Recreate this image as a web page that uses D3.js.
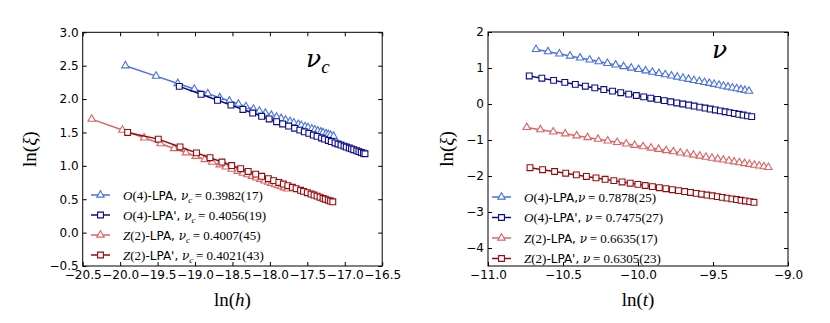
<!DOCTYPE html>
<html>
<head>
<meta charset="utf-8">
<script src="https://cdn.jsdelivr.net/npm/d3@7"></script>
<style>
body { margin: 0; background: #fff; }
svg { display: block; }
.tick text { font-family: "DejaVu Sans", sans-serif; font-size: 12px; fill: #000; }
.tick line { stroke: #000; }
.domain { stroke: none; }
</style>
</head>
<body>
<div id="container"></div>
<script>
// ln(xi) vs ln(h) at T_c  (left panel)
const o4LpaLnH = [-19.93, -19.52, -19.23, -19.01, -18.83, -18.67, -18.54, -18.42, -18.32, -18.22, -18.14, -18.06, -17.98, -17.91, -17.85, -17.79, -17.73, -17.68, -17.62, -17.58, -17.53, -17.49, -17.44, -17.40, -17.36, -17.32, -17.29, -17.25, -17.22, -17.19, -17.15]
const o4LpaXiH = [2.500, 2.344, 2.234, 2.150, 2.082, 2.021, 1.972, 1.926, 1.888, 1.850, 1.820, 1.789, 1.759, 1.732, 1.710, 1.687, 1.664, 1.645, 1.622, 1.607, 1.588, 1.573, 1.554, 1.539, 1.523, 1.508, 1.497, 1.482, 1.470, 1.459, 1.444]

const o4LpapLnH = [-19.21, -18.92, -18.70, -18.52, -18.36, -18.23, -18.11, -18.01, -17.91, -17.83, -17.75, -17.67, -17.60, -17.54, -17.48, -17.42, -17.37, -17.31, -17.27, -17.22, -17.18, -17.13, -17.09, -17.05, -17.01, -16.98, -16.94, -16.91, -16.88, -16.84, -16.81, -16.78, -16.75, -16.73]
const o4LpapXiH = [2.190, 2.072, 1.982, 1.909, 1.844, 1.791, 1.742, 1.702, 1.661, 1.628, 1.596, 1.563, 1.535, 1.510, 1.486, 1.461, 1.441, 1.417, 1.400, 1.380, 1.364, 1.343, 1.327, 1.311, 1.295, 1.282, 1.266, 1.254, 1.242, 1.225, 1.213, 1.201, 1.189, 1.181]

const z2LpaLnH = [-20.38, -19.97, -19.68, -19.46, -19.28, -19.12, -18.99, -18.87, -18.77, -18.67, -18.59, -18.51, -18.43, -18.36, -18.30, -18.24, -18.18, -18.13, -18.07, -18.02, -17.98, -17.93, -17.89, -17.85, -17.81, -17.77]
const z2LpaXiH = [1.700, 1.536, 1.420, 1.332, 1.260, 1.196, 1.144, 1.096, 1.056, 1.016, 0.984, 0.952, 0.920, 0.892, 0.868, 0.844, 0.820, 0.800, 0.776, 0.756, 0.740, 0.720, 0.704, 0.688, 0.672, 0.656]

const z2LpapLnH = [-19.90, -19.49, -19.20, -18.98, -18.80, -18.64, -18.51, -18.39, -18.29, -18.19, -18.11, -18.02, -17.95, -17.88, -17.82, -17.76, -17.70, -17.65, -17.59, -17.55, -17.50, -17.45, -17.41, -17.37, -17.33, -17.29, -17.26, -17.22, -17.19, -17.16]
const z2LpapXiH = [1.500, 1.400, 1.283, 1.194, 1.122, 1.057, 1.005, 0.957, 0.916, 0.876, 0.844, 0.808, 0.779, 0.751, 0.727, 0.703, 0.679, 0.658, 0.634, 0.618, 0.598, 0.578, 0.562, 0.546, 0.530, 0.513, 0.501, 0.485, 0.473, 0.461]

// ln(xi) vs ln(t) at h = 0  (right panel)
const o4LpaLnT = [-10.680, -10.600, -10.524, -10.453, -10.386, -10.322, -10.262, -10.204, -10.149, -10.096, -10.045, -9.996, -9.949, -9.904, -9.860, -9.818, -9.777, -9.738, -9.700, -9.663, -9.627, -9.591, -9.557, -9.524, -9.492, -9.460, -9.430, -9.400, -9.371, -9.342, -9.314, -9.287, -9.260]
const o4LpaXiT = [1.520, 1.454, 1.393, 1.335, 1.280, 1.228, 1.178, 1.131, 1.086, 1.043, 1.001, 0.961, 0.923, 0.886, 0.850, 0.816, 0.783, 0.750, 0.719, 0.689, 0.659, 0.631, 0.603, 0.576, 0.550, 0.524, 0.499, 0.474, 0.450, 0.427, 0.404, 0.382, 0.360]

const o4LpapLnT = [-10.725, -10.641, -10.563, -10.488, -10.418, -10.351, -10.288, -10.228, -10.170, -10.115, -10.062, -10.011, -9.962, -9.915, -9.869, -9.825, -9.782, -9.741, -9.701, -9.662, -9.625, -9.588, -9.553, -9.518, -9.484, -9.451, -9.419, -9.388, -9.358, -9.328, -9.299, -9.270, -9.242]
const o4LpapXiT = [0.780, 0.716, 0.656, 0.600, 0.546, 0.495, 0.447, 0.401, 0.357, 0.315, 0.275, 0.236, 0.198, 0.162, 0.128, 0.094, 0.062, 0.030, 0.000, -0.030, -0.058, -0.086, -0.113, -0.140, -0.165, -0.190, -0.215, -0.239, -0.262, -0.285, -0.307, -0.329, -0.350]

const z2LpaLnT = [-10.742, -10.651, -10.565, -10.485, -10.409, -10.336, -10.267, -10.202, -10.139, -10.079, -10.022, -9.966, -9.913, -9.862, -9.812, -9.764, -9.718, -9.673, -9.630, -9.588, -9.547, -9.507, -9.468, -9.431, -9.394, -9.359, -9.324, -9.290, -9.257, -9.224, -9.192, -9.161, -9.131]
const z2LpaXiT = [-0.650, -0.713, -0.772, -0.827, -0.880, -0.930, -0.977, -1.022, -1.065, -1.107, -1.146, -1.185, -1.221, -1.257, -1.291, -1.324, -1.356, -1.386, -1.416, -1.445, -1.474, -1.501, -1.528, -1.553, -1.579, -1.603, -1.627, -1.651, -1.674, -1.696, -1.718, -1.739, -1.760]

const z2LpapLnT = [-10.720, -10.636, -10.556, -10.482, -10.411, -10.344, -10.280, -10.219, -10.161, -10.106, -10.052, -10.001, -9.952, -9.904, -9.858, -9.814, -9.771, -9.730, -9.689, -9.650, -9.612, -9.576, -9.540, -9.505, -9.471, -9.438, -9.406, -9.374, -9.343, -9.313, -9.284, -9.255, -9.227]
const z2LpapXiT = [-1.770, -1.824, -1.875, -1.923, -1.969, -2.012, -2.053, -2.092, -2.129, -2.165, -2.199, -2.232, -2.264, -2.295, -2.324, -2.353, -2.380, -2.407, -2.433, -2.458, -2.482, -2.506, -2.529, -2.551, -2.573, -2.594, -2.615, -2.635, -2.655, -2.675, -2.693, -2.712, -2.730]

// ticks
const leftXTicks = [-20.5, -20.0, -19.5, -19.0, -18.5, -18.0, -17.5, -17.0, -16.5]
const leftYTicks = [-0.5, 0.0, 0.5, 1.0, 1.5, 2.0, 2.5, 3.0]
const rightXTicks = [-11.0, -10.5, -10.0, -9.5, -9.0]
const rightYTicks = [-4, -3, -2, -1, 0, 1, 2]

// legend text
const seriesNames = ["O(4)-LPA", "O(4)-LPA'", "Z(2)-LPA", "Z(2)-LPA'"]
const leftExponents = ["0.3982(17)", "0.4056(19)", "0.4007(45)", "0.4021(43)"]
const rightExponents = ["0.7878(25)", "0.7475(27)", "0.6635(17)", "0.6305(23)"]

const colors = ["#4a72e0", "#0b0b8c", "#dc6464", "#9a0a0a"]
const markers = ["triangle", "square", "triangle", "square"]

const width = 830, height = 323
const serif = "'Liberation Serif', 'DejaVu Serif', serif"
const greek = "'DejaVu Serif', serif"
const sans = "'DejaVu Sans', sans-serif"

const svg = d3.select("#container").append("svg")
    .attr("width", width)
    .attr("height", height)
    .style("background", "#fff")

const zip = (a, b) => a.map((v, i) => [v, b[i]])

function markerPath(kind) {
    if (kind == "triangle") return d3.symbol(d3.symbolTriangle, 24)()
    return d3.symbol(d3.symbolSquare, 34)()
}

function drawPanel(p) {
    const x = d3.scaleLinear().domain(p.xDomain).range([p.left, p.right])
    const y = d3.scaleLinear().domain(p.yDomain).range([p.bottom, p.top])
    const g = svg.append("g")

    // axes with inward ticks on all four sides
    g.append("g").attr("transform", `translate(0,${p.bottom})`)
        .call(d3.axisBottom(x).tickValues(p.xTicks).tickSize(-4).tickSizeOuter(0).tickPadding(4).tickFormat(d3.format(".1f")))
    g.append("g").attr("transform", `translate(0,${p.top})`)
        .call(d3.axisTop(x).tickValues(p.xTicks).tickSize(-4).tickSizeOuter(0).tickFormat(""))
    g.append("g").attr("transform", `translate(${p.left},0)`)
        .call(d3.axisLeft(y).tickValues(p.yTicks).tickSize(-4).tickSizeOuter(0).tickPadding(4).tickFormat(d3.format(p.yFormat)))
    g.append("g").attr("transform", `translate(${p.right},0)`)
        .call(d3.axisRight(y).tickValues(p.yTicks).tickSize(-4).tickSizeOuter(0).tickFormat(""))

    // series
    const line = d3.line().x(d => x(d[0])).y(d => y(d[1]))
    p.series.forEach((s, i) => {
        const pts = zip(s[0], s[1])
        g.append("path").datum(pts)
            .attr("d", line)
            .attr("fill", "none")
            .attr("stroke", colors[i])
            .attr("stroke-width", 1.5)
        g.append("g").selectAll("path")
            .data(pts)
            .enter()
            .append("path")
            .attr("d", markerPath(markers[i]))
            .attr("transform", d => `translate(${x(d[0])},${y(d[1])})`)
            .attr("fill", "#fff")
            .attr("stroke", colors[i])
            .attr("stroke-width", 1.1)
    })

    g.append("rect")
        .attr("x", p.left).attr("y", p.top)
        .attr("width", p.right - p.left).attr("height", p.bottom - p.top)
        .attr("fill", "none").attr("stroke", "#000").attr("stroke-width", 1)

    // legend
    const leg = g.append("g")
    seriesNames.forEach((name, i) => {
        const ly = p.legendY + i * p.legendStep
        leg.append("line")
            .attr("x1", p.legendX).attr("x2", p.legendX + 19)
            .attr("y1", ly).attr("y2", ly)
            .attr("stroke", colors[i]).attr("stroke-width", 1.5)
        leg.append("path")
            .attr("d", markerPath(markers[i]))
            .attr("transform", `translate(${p.legendX + 9.5},${ly})`)
            .attr("fill", "#fff").attr("stroke", colors[i]).attr("stroke-width", 1.1)

        const t = leg.append("text")
            .attr("x", p.legendX + 32).attr("y", ly + 4.5)
            .style("font-size", "13px")
        t.append("tspan").attr("font-family", serif).attr("font-style", "italic").text(name[0])
        t.append("tspan").attr("font-family", serif).text(name.slice(1, 4))
        t.append("tspan").attr("font-family", sans).style("font-size", "12px")
            .text(name.slice(4) + (p.noSpace && i == 0 ? "," : ", "))
        t.append("tspan").attr("font-family", greek).attr("font-style", "italic").style("font-size", "12px").text("ν")
        if (p.sub) {
            t.append("tspan").attr("font-family", serif).attr("font-style", "italic")
                .style("font-size", "9px").attr("dy", 3).text(p.sub)
            t.append("tspan").attr("font-family", serif).attr("dy", -3).text("\u2009= " + p.exponents[i])
        } else {
            t.append("tspan").attr("font-family", serif).text("\u2009= " + p.exponents[i])
        }
    })

    // panel label
    const lab = g.append("text")
        .attr("x", p.label[0]).attr("y", p.label[1])
        .attr("font-family", greek).attr("font-style", "italic")
        .style("font-size", "25px")
        .text("ν")
    if (p.sub) lab.append("tspan").attr("font-family", serif).style("font-size", "19px").attr("dy", 6).text(p.sub)

    // axis titles
    const yt = g.append("text")
        .attr("transform", `translate(${p.yTitleX},${(p.top + p.bottom) / 2}) rotate(-90)`)
        .attr("text-anchor", "middle")
        .attr("font-family", serif)
        .style("font-size", "19px")
    yt.append("tspan").text("ln(")
    yt.append("tspan").attr("font-style", "italic").text("ξ")
    yt.append("tspan").text(")")

    const xt = g.append("text")
        .attr("x", (p.left + p.right) / 2).attr("y", 306)
        .attr("text-anchor", "middle")
        .attr("font-family", serif)
        .style("font-size", "19px")
    xt.append("tspan").text("ln(")
    xt.append("tspan").attr("font-style", "italic").text(p.xVar)
    xt.append("tspan").text(")")
}

drawPanel({
    left: 82.7, right: 382.2, top: 32.3, bottom: 266,
    xDomain: [-20.5, -16.5], yDomain: [-0.5, 3.0],
    xTicks: leftXTicks, yTicks: leftYTicks, yFormat: ".1f",
    series: [[o4LpaLnH, o4LpaXiH], [o4LpapLnH, o4LpapXiH], [z2LpaLnH, z2LpaXiH], [z2LpapLnH, z2LpapXiH]],
    exponents: leftExponents, sub: "c", noSpace: false,
    legendX: 91, legendY: 195, legendStep: 20,
    label: [306, 67], yTitleX: 36, xVar: "h"
})

drawPanel({
    left: 488, right: 788, top: 32, bottom: 266,
    xDomain: [-11, -9], yDomain: [-4.5, 2],
    xTicks: rightXTicks, yTicks: rightYTicks, yFormat: "d",
    series: [[o4LpaLnT, o4LpaXiT], [o4LpapLnT, o4LpapXiT], [z2LpaLnT, z2LpaXiT], [z2LpapLnT, z2LpapXiT]],
    exponents: rightExponents, sub: null, noSpace: true,
    legendX: 492, legendY: 197, legendStep: 20.5,
    label: [712, 58], yTitleX: 453, xVar: "t"
})
</script>
</body>
</html>
